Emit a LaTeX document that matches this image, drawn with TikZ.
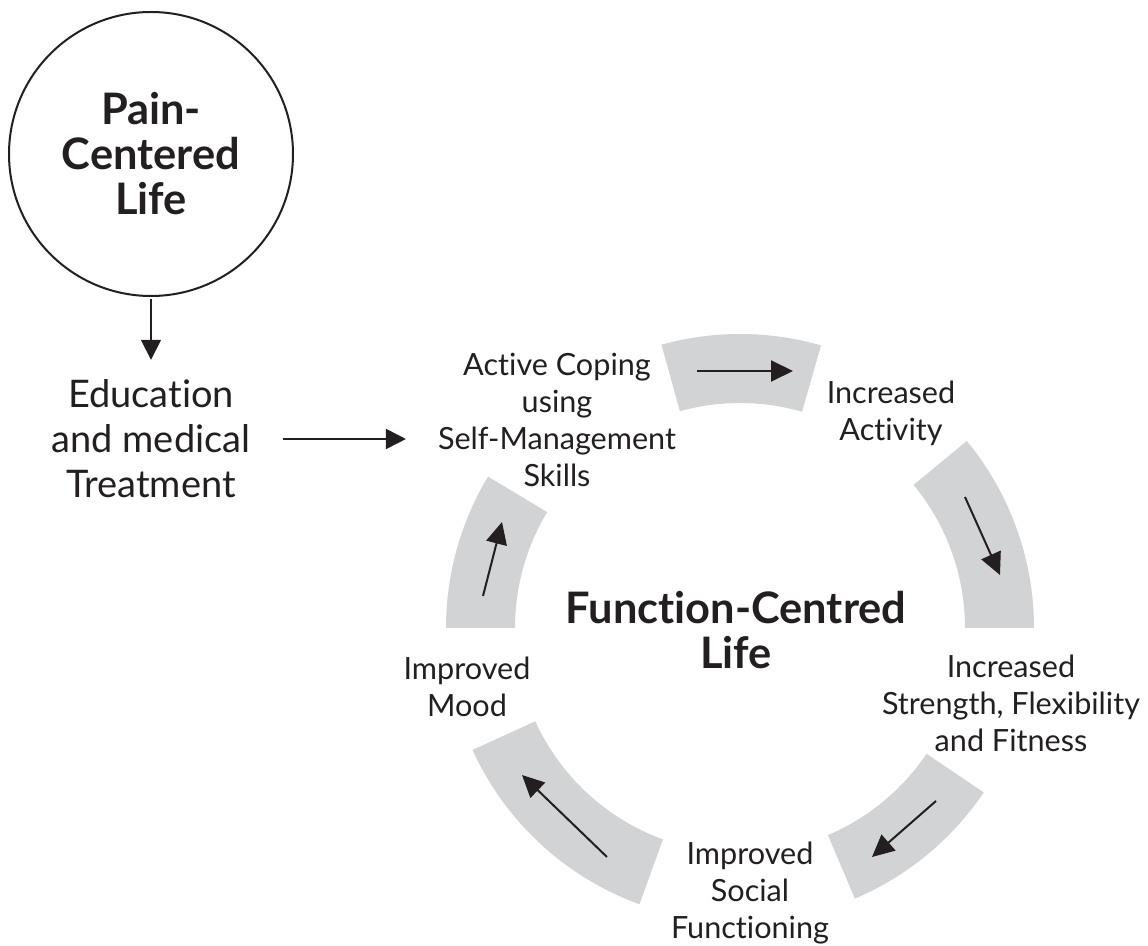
\documentclass[tikz,border=0pt]{standalone}
\usepackage{fontspec}
\setmainfont{Lato}[Ligatures={CommonOff,ContextualOff}]
\usepackage{tikz}
\usetikzlibrary{arrows.meta}
\definecolor{ringgray}{RGB}{209,211,212}
\definecolor{ink}{RGB}{35,31,32}
\tikzstyle{lbl}=[align=center,text=ink,font=\fontsize{15.3pt}{18.5pt}\selectfont]
\tikzstyle{edulbl}=[align=center,text=ink,font=\fontsize{19pt}{22.5pt}\selectfont]
\tikzstyle{big}=[align=center,text=ink,font=\fontsize{21.7pt}{22.5pt}\selectfont\bfseries]
\tikzstyle{arr}=[draw=ink,line width=0.9pt,-{Triangle[length=10pt,width=10pt]}]
\tikzstyle{cyc}=[draw=ink,line width=1pt,-{Triangle[length=11pt,width=10.5pt]}]

\begin{document}
\begin{tikzpicture}[x=0.5pt,y=0.5pt]
        \useasboundingbox (0,0) rectangle (1148,-946);
        % pain side
        \node[big,circle,draw=ink,line width=1pt,minimum size=142pt,inner sep=0pt] (pain) at (151,-154) {Pain-\\Centered\\Life};
        \node[edulbl] (edu) at (151,-439) {Education\\and medical\\Treatment};

        %% the ring, centre at (740,-628)
        \foreach \a/\b in {74/105.5,0/39.5,-67/-34,204.5/250,149/180}
        {
          \fill[ringgray,shift={(740,-628)}] (\a:294) arc[start angle=\a,end angle=\b,radius=294]
            -- (\b:225) arc[start angle=\b,end angle=\a,radius=225] -- cycle;
        }
        \foreach \n/\xa/\ya/\xb/\yb in {1/697/371/793/371,2/965/497/1000/575,3/936/801/872/857,4/607/857/522/775,5/483/596/502/522}
        {
          \coordinate (s\n) at (\xa,-\ya);
          \coordinate (e\n) at (\xb,-\yb);
          \draw[cyc] (s\n) -- (e\n);
        }

        % the steps
        \node[lbl] (cope) at (557,-420) {Active Coping\\using\\Self-Management\\Skills};
        \node[lbl] (act) at (891,-413) {Increased\\Activity};
        \node[lbl] (str) at (1011,-703) {Increased\\Strength, Flexibility\\and Fitness};
        \node[lbl] (soc) at (750,-893) {Improved\\Social\\Functioning};
        \node[lbl] (mood) at (467,-687) {Improved\\Mood};
        \node[big] (func) at (736,-630) {Function-Centred\\Life};

        \draw[arr,shorten <=1pt,shorten >=6.5pt] (pain) -- (edu);
        \draw[arr,shorten <=13pt,shorten >=12.5pt] (edu.east) -- (edu.east -| cope.west);
      \end{tikzpicture}
\end{document}
